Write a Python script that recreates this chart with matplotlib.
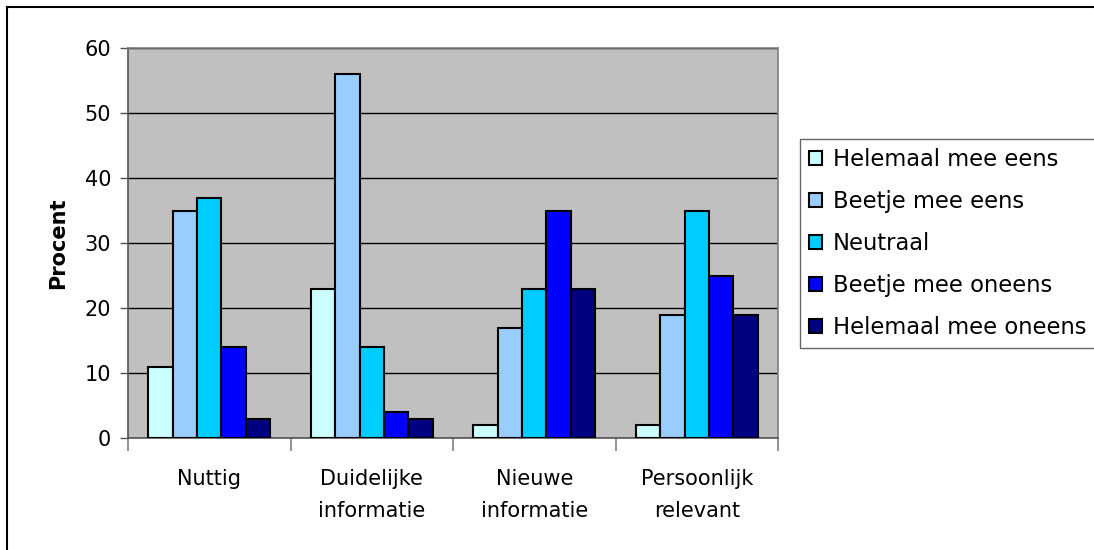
import matplotlib.pyplot as plt
import numpy as np
from matplotlib.patches import Rectangle

plt.rcParams.update({
    "font.family": "DejaVu Sans",
    "font.size": 15,
    "text.color": "black",
    "xtick.color": "black",
    "ytick.color": "black",
})

categories = ["Nuttig", "Duidelijke\ninformatie", "Nieuwe\ninformatie", "Persoonlijk\nrelevant"]
series_names = ["Helemaal mee eens", "Beetje mee eens", "Neutraal",
                "Beetje mee oneens", "Helemaal mee oneens"]
helemaal_eens = [11, 23, 2, 2]
beetje_eens = [35, 56, 17, 19]
neutraal = [37, 14, 23, 35]
beetje_oneens = [14, 4, 35, 25]
helemaal_oneens = [3, 3, 23, 19]
colors = ["#CCFFFF", "#99CCFF", "#00CCFF", "#0000FF", "#000080"]

series = [helemaal_eens, beetje_eens, neutraal, beetje_oneens, helemaal_oneens]

fig = plt.figure(figsize=(10.94, 5.5), dpi=100)
ax = fig.add_axes([128 / 1094, 1 - 438 / 550, 650 / 1094, 390 / 550])
ax.set_facecolor("#C0C0C0")

x = np.arange(len(categories))
width = 0.15
for i, (vals, name, c) in enumerate(zip(series, series_names, colors)):
    ax.bar(x + (i - 2) * width, vals, width, color=c, edgecolor="black",
           linewidth=1.5, label=name, zorder=3)

ax.set_xlim(-0.5, len(categories) - 0.5)
ax.set_ylim(0, 60)
ax.set_yticks(range(0, 61, 10))
ax.yaxis.grid(True, color="black", linewidth=1, zorder=1)
ax.tick_params(axis="y", length=6, width=1, color="#555555", pad=6)

# category boundaries carry the tick marks, labels sit in between
ax.set_xticks(np.arange(-0.5, len(categories), 1.0))
ax.set_xticklabels([])
ax.tick_params(axis="x", which="major", length=9, width=1.2, color="#808080")
ax.set_xticks(x, minor=True)
ax.set_xticklabels(categories, minor=True, linespacing=1.75)
ax.tick_params(axis="x", which="minor", length=0, pad=22)

for s in ax.spines.values():
    s.set_color("#808080")
    s.set_linewidth(1.2)
ax.spines["left"].set_color("#555555")
ax.spines["bottom"].set_color("#555555")

ax.set_ylabel("Procent", fontweight="bold", labelpad=12)

leg = fig.legend(loc="upper left", bbox_to_anchor=(800 / 1094, 1 - 139 / 550),
                 frameon=True, fancybox=False, edgecolor="#404040",
                 fontsize=16.3,
                 handlelength=0.55, handleheight=0.55, handletextpad=0.5,
                 labelspacing=0.84, borderpad=0.4, borderaxespad=0)
leg.get_frame().set_linewidth(1.0)
for h in leg.legend_handles:
    h.set_linewidth(1.5)

# outer chart frame
fig.patches.append(Rectangle((7 / 1094, -0.05), 1.2, 1 - 7 / 550 + 0.05,
                             transform=fig.transFigure, fill=False,
                             edgecolor="black", linewidth=1.5))

fig.savefig("out.png", dpi=100)
